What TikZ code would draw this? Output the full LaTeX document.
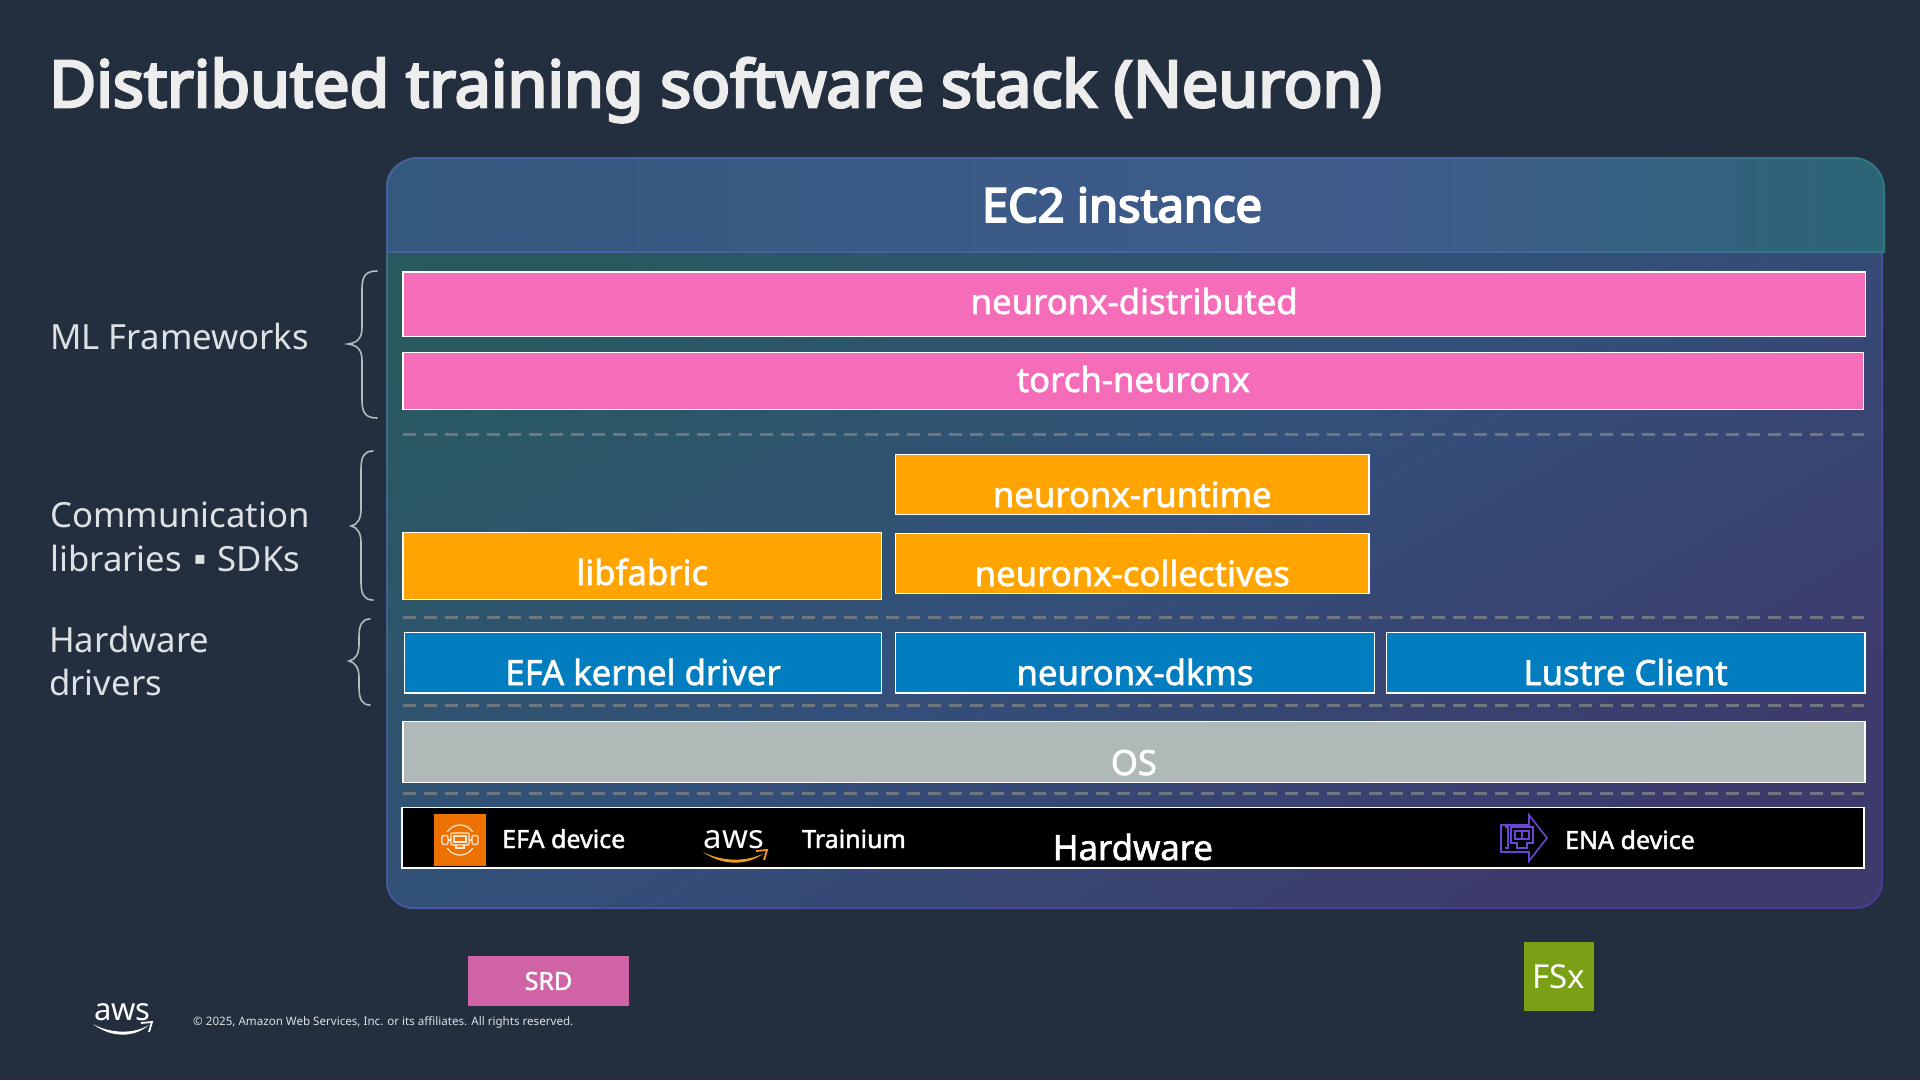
\documentclass[tikz,border=0pt]{standalone}
\usepackage{fontspec}
\setmainfont{Noto Sans}
\usetikzlibrary{calc}
\definecolor{pagebg}{HTML}{232F3E}
\definecolor{pinkfill}{HTML}{F56CB8}
\definecolor{orangefill}{HTML}{FFA400}
\definecolor{bluefill}{HTML}{027DBF}
\definecolor{greyfill}{HTML}{AEB9B8}
\definecolor{srdfill}{HTML}{D062A6}
\definecolor{fsxfill}{HTML}{7AA116}
\definecolor{efaorange}{HTML}{ED7100}
\definecolor{enapurple}{HTML}{6B46D6}
\definecolor{smile}{HTML}{F29B1D}
\definecolor{dashgrey}{HTML}{6E7680}
\definecolor{labelgrey}{HTML}{DDE1E5}
\definecolor{bracegrey}{HTML}{B4BABD}
\definecolor{tealA}{HTML}{28595F}
\definecolor{tealB}{HTML}{33507A}
\definecolor{purpleA}{HTML}{3D3A6C}
\definecolor{headA}{HTML}{34597E}
\definecolor{headB}{HTML}{3F5B8B}
\definecolor{headC}{HTML}{2C6577}
\definecolor{edgeA}{HTML}{3F6A8A}
\definecolor{edgeB}{HTML}{4A55A0}
\definecolor{edgeC}{HTML}{483D9A}
\definecolor{hedgeA}{HTML}{47609F}
\definecolor{hedgeB}{HTML}{4A62A8}
\definecolor{hedgeC}{HTML}{2F7A82}
\pgfdeclarehorizontalshading{bodyshade}{100bp}{color(0bp)=(tealA); color(25bp)=(tealA); color(50bp)=(tealB); color(75bp)=(purpleA); color(100bp)=(purpleA)}
\pgfdeclarehorizontalshading{bodyedge}{100bp}{color(0bp)=(edgeA); color(25bp)=(edgeA); color(50bp)=(edgeB); color(75bp)=(edgeC); color(100bp)=(edgeC)}
\pgfdeclarehorizontalshading{headshade}{100bp}{color(0bp)=(headA); color(25bp)=(headA); color(58bp)=(headB); color(75bp)=(headC); color(100bp)=(headC)}
\pgfdeclarehorizontalshading{headedge}{100bp}{color(0bp)=(hedgeA); color(25bp)=(hedgeA); color(58bp)=(hedgeB); color(75bp)=(hedgeC); color(100bp)=(hedgeC)}
\newfontfamily\bodybold[FakeBold=1.7]{Noto Sans}
\newfontfamily\headfont[FakeBold=4.2]{Noto Sans}
\newfontfamily\symfont{DejaVu Sans}
\tikzset{
  stackbox/.style={draw=white, line width=1.5pt, inner sep=0pt, outer sep=0pt},
  boxtext/.style={text=white, font=\bodybold\fontsize{34.7}{34.7}\selectfont, anchor=base, inner sep=0pt},
  sidetext/.style={text=labelgrey, font=\fontsize{34.7}{34.7}\selectfont, anchor=base west, inner sep=0pt},
  smalltext/.style={text=white, font=\bodybold\fontsize{25}{25}\selectfont, anchor=base west, inner sep=0pt},
  dashline/.style={draw=dashgrey, line width=2.6pt, dash pattern=on 12.7pt off 8.3pt},
  bracestroke/.style={draw=bracegrey, line width=1.6pt, line cap=round},
}
% name, x1, y1, x2, y2, colour, text, baseline
\newcommand{\stackitem}[8]{%
  \pgfmathsetmacro{\bw}{#4-#2}\pgfmathsetmacro{\bh}{#5-#3}%
  \pgfmathsetmacro{\bcx}{(#2+#4)/2}\pgfmathsetmacro{\bcy}{(#3+#5)/2}%
  \node[stackbox, fill=#6, minimum width=\bw pt, minimum height=\bh pt] (#1) at (\bcx,\bcy) {};%
  \node[boxtext] (#1t) at (\bcx,#8) {#7};%
}
% tip x, stem x, end x, top y, tip y, bottom y
\newcommand{\bracepath}[6]{%
  \draw[bracestroke] (#3,#4) .. controls (#2+3,#4) and (#2,#4+6) .. (#2,#4+18)
   -- (#2,#5-16) .. controls (#2,#5-7) and (#2-4,#5-1) .. (#1,#5)
   .. controls (#2-4,#5+1) and (#2,#5+7) .. (#2,#5+16)
   -- (#2,#6-18) .. controls (#2,#6-6) and (#2+3,#6) .. (#3,#6);%
}
% smile: x1, x2, y base, colour
\newcommand{\smilemark}[4]{%
  \fill[#4] (#1,#3) .. controls ({#1+0.3*(#2-#1)},#3+10) and ({#1+0.7*(#2-#1)},#3+10) .. (#2-3,#3+1)
   .. controls ({#1+0.7*(#2-#1)},#3+14) and ({#1+0.3*(#2-#1)},#3+14) .. cycle;
  \draw[#4, line width=1.8pt] (#2-11,#3-1) -- (#2,#3-2) -- (#2-3,#3+8);%
}
\begin{document}
\begin{tikzpicture}[x=1pt,y=-1pt]
\useasboundingbox (0,0) rectangle (1920,1080);
\fill[pagebg] (0,0) rectangle (1920,1080);
\node[text=white!93!black, font=\headfont\fontsize{64.5}{64.5}\selectfont, anchor=base west, inner sep=0pt] (title) at (49,107) {Distributed training software stack (Neuron)};

% container body
\path[shading=bodyedge, shading angle=-60, rounded corners=27pt] (386,159) rectangle (1883,909);
\path[shading=bodyshade, shading angle=-60, rounded corners=25pt] (388,161) rectangle (1881,907);
% container header
\begin{scope}
\clip[rounded corners=32pt] (386,157) rectangle (1885,300);
\path[shading=headedge] (386,157) rectangle (1885,252);
\end{scope}
\begin{scope}
\clip[rounded corners=30pt] (388,159) rectangle (1883,300);
\path[shading=headshade] (388,159) rectangle (1883,250);
\end{scope}
\node[text=white, font=\headfont\fontsize{47}{47}\selectfont, anchor=base, inner sep=0pt] (ec2) at (1122,222) {EC2 instance};

% side labels and braces
\node[sidetext] (ml) at (50,349) {ML Frameworks};
\node[sidetext] (comm) at (50,527) {Communication};
\node[sidetext] (libs) at (50,571) {libraries\hspace{0.34em}\raisebox{6.5pt}{\symfont\fontsize{18}{18}\selectfont ▪}\hspace{0.34em}SDKs};
\node[sidetext] (hwa) at (49,652) {Hardware};
\node[sidetext] (hwb) at (49,695) {drivers};
\bracepath{348}{362}{377}{271}{344}{418}
\bracepath{351}{361}{373}{451}{526}{600}
\bracepath{349}{359}{370}{619}{661}{705}

% separators
\coordinate (d1a) at (403,434.7); \coordinate (d1b) at (1864,434.7);
\coordinate (d2a) at (403,617.7); \coordinate (d2b) at (1864,617.7);
\coordinate (d3a) at (403,705.7); \coordinate (d3b) at (1864,705.7);
\coordinate (d4a) at (403,793.7); \coordinate (d4b) at (1864,793.7);
\draw[dashline] (d1a) -- (d1b);
\draw[dashline] (d2a) -- (d2b);
\draw[dashline] (d3a) -- (d3b);
\draw[dashline] (d4a) -- (d4b);

% stack
\stackitem{dist}{402.8}{271.8}{1865.5}{336.3}{pinkfill}{neuronx-distributed}{314}
\stackitem{torch}{402.8}{352.3}{1863.7}{409.7}{pinkfill}{torch-neuronx}{392}
\stackitem{runtime}{895.5}{454.3}{1369}{514.7}{orangefill}{neuronx-runtime}{507}
\stackitem{fabric}{402.8}{532.3}{881.7}{599.7}{orangefill}{libfabric}{585}
\stackitem{coll}{895.5}{533.3}{1369}{593.7}{orangefill}{neuronx-collectives}{586}
\stackitem{efa}{404.5}{632.3}{881.7}{693}{bluefill}{EFA kernel driver}{685}
\stackitem{dkms}{895.5}{632.3}{1374.5}{693}{bluefill}{neuronx-dkms}{685}
\stackitem{lustre}{1386.3}{632.3}{1865}{693}{bluefill}{Lustre Client}{685}
\stackitem{os}{402.8}{721.7}{1865}{782.7}{greyfill}{OS}{775}
\stackitem{hw}{401.8}{807.5}{1864}{868}{black}{Hardware}{860}

% EFA icon
\node[fill=efaorange, minimum width=52pt, minimum height=52pt, inner sep=0pt, outer sep=0pt] (efaicon) at (460,840) {};
\draw[white!85!efaorange, line width=1.2pt] (460,840) circle (15pt);
\fill[efaorange] (443,832) rectangle (477,848);
\draw[white!85!efaorange, line width=1.2pt, rounded corners=1pt] (451,833) rectangle (469,845);
\draw[white!85!efaorange, line width=1.2pt] (454,836) rectangle (466,842);
\draw[white!85!efaorange, line width=1.2pt, rounded corners=1.5pt] (442,835.5) rectangle (448,844.5);
\draw[white!85!efaorange, line width=1.2pt, rounded corners=1.5pt] (472,835.5) rectangle (478,844.5);
\draw[white!85!efaorange, line width=1.2pt] (448,840) -- (451,840) (469,840) -- (472,840) (456,845) -- (456,848) -- (464,848) -- (464,845);
\node[smalltext] (efadev) at (502,848) {EFA device};

% Trainium logo
\node[text=white, font=\fontsize{33}{33}\selectfont, anchor=base, inner sep=0pt] (awsa) at (734,848) {aws};
\smilemark{703}{767}{852}{smile}
\node[smalltext] (train) at (802,848) {Trainium};

% ENA icon
\draw[enapurple, line width=1.6pt, line join=miter] (1516,825) -- (1501,825) -- (1501,852) -- (1529,852) -- (1529,861) -- (1547,838) -- (1529,815) -- (1529,825) -- cycle;
\draw[enapurple, line width=1.4pt] (1505,827) -- (1508,827) -- (1508,848) -- (1505,848);
\draw[enapurple, line width=1.4pt] (1511,827) -- (1533,827) -- (1533,843) -- (1527,843) -- (1527,848) -- (1517,848) -- (1517,843) -- (1511,843) -- cycle;
\draw[enapurple, line width=1.2pt] (1515,831) rectangle (1529,839) (1522,831) -- (1522,839);
\node[smalltext] (enadev) at (1565,849) {ENA device};

% stray items
\node[fill=srdfill, minimum width=161pt, minimum height=50pt, inner sep=0pt, outer sep=0pt, text=white, font=\bodybold\fontsize{25}{25}\selectfont] (srd) at (548.5,981) {SRD};
\node[fill=fsxfill, minimum width=70pt, minimum height=69pt, inner sep=0pt, outer sep=0pt, text=white, font=\fontsize{33}{33}\selectfont] (fsx) at (1559,976.5) {FSx};

% footer
\node[text=white, font=\fontsize{31}{31}\selectfont, anchor=base, inner sep=0pt] (awsb) at (122.5,1020) {aws};
\smilemark{93}{152}{1024}{white}
\node[text=labelgrey, font=\fontsize{11.6}{11.6}\selectfont, anchor=base west, inner sep=0pt] (copy) at (193,1025) {© 2025, Amazon Web Services, Inc. or its affiliates. All rights reserved.};
\end{tikzpicture}
\end{document}
